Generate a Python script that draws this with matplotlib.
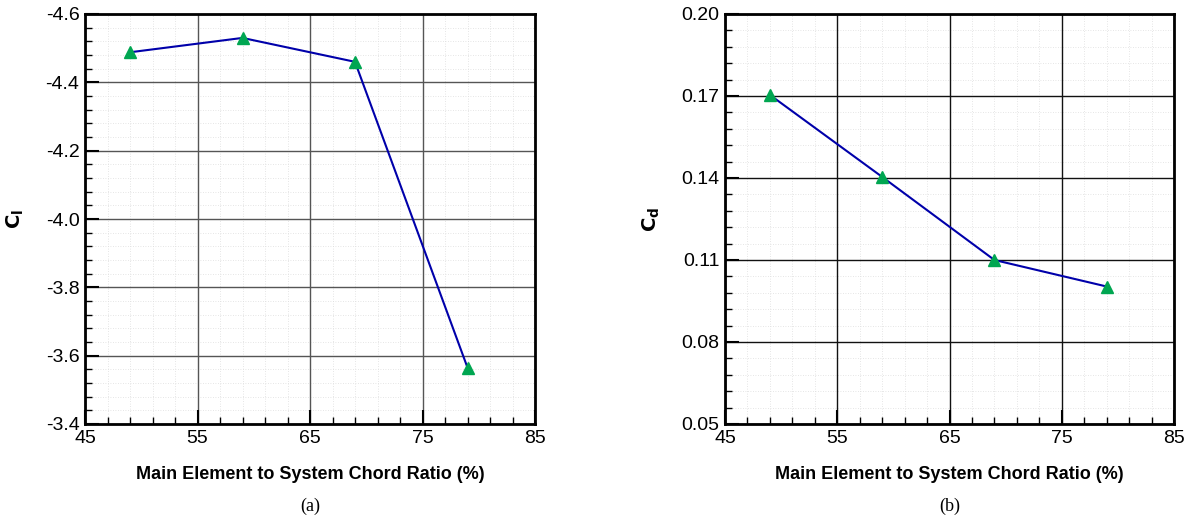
import matplotlib
matplotlib.use("Agg")
import matplotlib.pyplot as plt
import numpy as np

ratio = [49, 59, 69, 79]
cl = [-4.488, -4.530, -4.460, -3.565]
cd = [0.1704, 0.1404, 0.1100, 0.1003]

xticks = [45, 55, 65, 75, 85]
cl_ticks = [-4.6, -4.4, -4.2, -4.0, -3.8, -3.6, -3.4]
cl_labels = ['-4.6', '-4.4', '-4.2', '-4.0', '-3.8', '-3.6', '-3.4']
cd_ticks = [0.05, 0.08, 0.11, 0.14, 0.17, 0.20]
cd_labels = ['0.05', '0.08', '0.11', '0.14', '0.17', '0.20']

xlabel = "Main Element to System Chord Ratio (%)"
plt.rcParams['font.family'] = ['Liberation Sans', 'DejaVu Sans']

fig = plt.figure(figsize=(11.9, 5.19), dpi=100)
ax1 = fig.add_axes([85/1190, 1-424/519, 450/1190, 410/519])
ax2 = fig.add_axes([725/1190, 1-424/519, 449/1190, 410/519])

line_c = '#0000AA'
mark_c = '#00A651'

def minor_between(ticks, n=5):
    out = []
    for a, b in zip(ticks[:-1], ticks[1:]):
        out.extend(list(np.linspace(a, b, n + 1)[1:-1]))
    return out

def style(ax, yt, ylab, gridcol):
    ax.set_xlim(45, 85)
    xm = minor_between(xticks)
    ym = minor_between(sorted(yt))
    ax.set_xticks(xticks)
    ax.set_xticks(xm, minor=True)
    ax.set_yticks(yt)
    ax.set_yticklabels(ylab)
    ax.set_yticks(ym, minor=True)
    # faint dotted minor grid, drawn beneath the major grid
    for v in xm:
        ax.axvline(v, color='#dddddd', lw=0.6, ls=(0, (1, 2)), zorder=0.5)
    for v in ym:
        ax.axhline(v, color='#dddddd', lw=0.6, ls=(0, (1, 2)), zorder=0.5)
    ax.grid(True, which='major', color=gridcol, lw=1.0)
    ax.set_axisbelow(True)
    for s in ax.spines.values():
        s.set_linewidth(2.0)
    ax.tick_params(which='both', direction='in', top=False, right=False,
                   labelsize=14, pad=4)
    ax.tick_params(which='major', length=10, width=1.5)
    ax.tick_params(which='minor', length=5, width=1.0)
    ax.set_xlabel(xlabel, fontsize=13, fontweight='bold', labelpad=14)

ax1.set_ylim(-3.4, -4.6)
style(ax1, cl_ticks, cl_labels, '#555555')
ax1.plot(ratio, cl, color=line_c, lw=1.5, zorder=3)
ax1.plot(ratio, cl, ls='none', marker='^', ms=9, color=mark_c, zorder=4)
ax1.set_ylim(-3.4, -4.6)
ax1.set_ylabel(r'$\mathbf{C_l}$', fontsize=14, labelpad=14)

ax2.set_ylim(0.05, 0.20)
style(ax2, cd_ticks, cd_labels, '#111111')
ax2.plot(ratio, cd, color=line_c, lw=1.5, zorder=3)
ax2.plot(ratio, cd, ls='none', marker='^', ms=9, color=mark_c, zorder=4)
ax2.set_ylim(0.05, 0.20)
ax2.set_ylabel(r'$\mathbf{C_d}$', fontsize=14, labelpad=14)

fig.text(310/1190, 1-506/519, '(a)', ha='center', va='center', fontsize=13,
         family=['Liberation Serif', 'DejaVu Serif'])
fig.text(950/1190, 1-506/519, '(b)', ha='center', va='center', fontsize=13,
         family=['Liberation Serif', 'DejaVu Serif'])

fig.savefig('out.png', dpi=100)
